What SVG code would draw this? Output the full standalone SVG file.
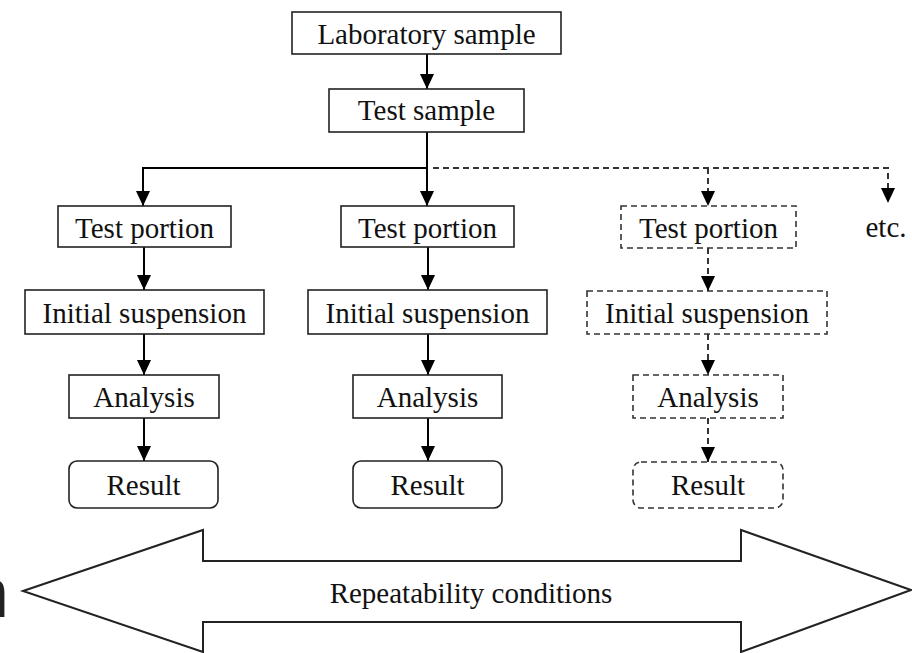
<svg xmlns="http://www.w3.org/2000/svg" width="912" height="653" viewBox="0 0 912 653">
<defs>
<marker id="ah" markerUnits="userSpaceOnUse" markerWidth="16" markerHeight="16" viewBox="0 0 16 16" refX="15" refY="8" orient="auto">
<path d="M0,1 L15,8 L0,15 Z" fill="#000"/>
</marker>
<style>
.box{fill:#fff;stroke:#222;stroke-width:1.6}
.dbox{fill:#fff;stroke:#333;stroke-width:1.6;stroke-dasharray:6 4}
.t{font-family:"Liberation Serif","Times New Roman",serif;font-size:29px;fill:#111;text-anchor:middle}
.c{fill:none;stroke:#000;stroke-width:2}
.d{fill:none;stroke:#333;stroke-width:2;stroke-dasharray:6 4}
</style>
</defs>
<rect width="912" height="653" fill="#fff"/>

<g id="connectors">
<line class="c" x1="427" y1="54" x2="427" y2="89" marker-end="url(#ah)"/>
<line class="c" x1="427" y1="132" x2="427" y2="206" marker-end="url(#ah)"/>
<polyline class="c" points="427,168 143,168 143,206" marker-end="url(#ah)"/>
<polyline class="d" points="433,168 888,168 888,203" marker-end="url(#ah)"/>
<line class="d" x1="708" y1="168" x2="708" y2="206" marker-end="url(#ah)"/>
<line class="c" x1="144" y1="247" x2="144" y2="290" marker-end="url(#ah)"/>
<line class="c" x1="144" y1="334" x2="144" y2="375" marker-end="url(#ah)"/>
<line class="c" x1="144" y1="418" x2="144" y2="461" marker-end="url(#ah)"/>
<line class="c" x1="428" y1="247" x2="428" y2="290" marker-end="url(#ah)"/>
<line class="c" x1="428" y1="334" x2="428" y2="375" marker-end="url(#ah)"/>
<line class="c" x1="428" y1="418" x2="428" y2="461" marker-end="url(#ah)"/>
<line class="d" x1="708" y1="248" x2="708" y2="291" marker-end="url(#ah)"/>
<line class="d" x1="708" y1="334" x2="708" y2="375" marker-end="url(#ah)"/>
<line class="d" x1="708" y1="418" x2="708" y2="462" marker-end="url(#ah)"/>
</g>

<g id="lab-sample"><rect class="box" x="292" y="12" width="269" height="42"/><text class="t" x="426.5" y="44">Laboratory sample</text></g>
<g id="test-sample"><rect class="box" x="329" y="89" width="195" height="43"/><text class="t" x="426.5" y="120">Test sample</text></g>

<g id="tp1"><rect class="box" x="58" y="206" width="173" height="41"/><text class="t" x="144.5" y="238">Test portion</text></g>
<g id="is1"><rect class="box" x="25" y="290" width="239" height="44"/><text class="t" x="144.5" y="323">Initial suspension</text></g>
<g id="an1"><rect class="box" x="69" y="375" width="150" height="43"/><text class="t" x="144" y="407">Analysis</text></g>
<g id="re1"><rect class="box" x="69" y="461" width="149" height="47" rx="8"/><text class="t" x="143.5" y="495">Result</text></g>

<g id="tp2"><rect class="box" x="341" y="206" width="173" height="41"/><text class="t" x="427.5" y="238">Test portion</text></g>
<g id="is2"><rect class="box" x="308" y="290" width="239" height="44"/><text class="t" x="427.5" y="323">Initial suspension</text></g>
<g id="an2"><rect class="box" x="353" y="375" width="149" height="43"/><text class="t" x="427.5" y="407">Analysis</text></g>
<g id="re2"><rect class="box" x="353" y="461" width="149" height="47" rx="8"/><text class="t" x="427.5" y="495">Result</text></g>

<g id="tp3"><rect class="dbox" x="621" y="206" width="175" height="42"/><text class="t" x="708.5" y="238">Test portion</text></g>
<g id="is3"><rect class="dbox" x="587" y="291" width="240" height="43"/><text class="t" x="707" y="323">Initial suspension</text></g>
<g id="an3"><rect class="dbox" x="633" y="375" width="150" height="43"/><text class="t" x="708" y="407">Analysis</text></g>
<g id="re3"><rect class="dbox" x="633" y="462" width="150" height="46" rx="8"/><text class="t" x="708" y="495">Result</text></g>

<g id="etc"><text class="t" x="886" y="237">etc.</text></g>

<g id="repeatability">
<polygon points="23,591 203,530 203,561 741,561 741,530 911,590 741,652 741,622 203,622 203,652" fill="#fff" stroke="#222" stroke-width="2" stroke-linejoin="miter"/>
<text class="t" x="471" y="603">Repeatability conditions</text>
</g>

<text x="-30" y="617" font-family="Liberation Sans, Arial, sans-serif" font-size="70" fill="#222">n</text>
</svg>
